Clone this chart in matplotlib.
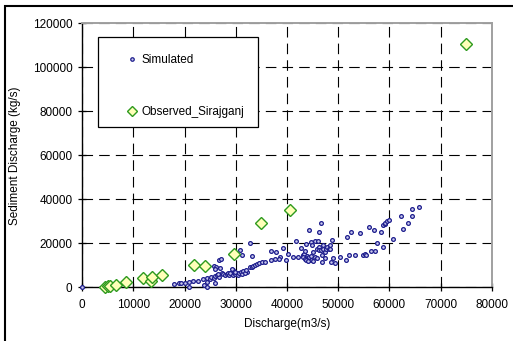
import numpy as np
import matplotlib
matplotlib.use('Agg')
import matplotlib.pyplot as plt
from matplotlib.patches import Rectangle
from matplotlib.lines import Line2D

plt.rcParams['font.family'] = ['Liberation Sans', 'DejaVu Sans']
plt.rcParams['font.size'] = 8.5

# simulated sediment discharge vs discharge
sim_q = [0, 17920, 18960, 19350, 20000, 20780, 20910, 21700, 22600, 23520, 23780, 24300, 24430, 24300,
         24950, 25080, 25730, 25990, 25860, 26380, 26640, 25730, 26120, 26900, 27300, 26640, 27030,
         27560, 27950, 28210, 28470, 28730, 29120, 29380, 29510, 29900, 30160, 30420, 30680, 30940,
         31200, 31460, 30810, 31200, 32120, 32770, 33160, 33420, 33810, 34200, 34590, 35110, 35630,
         25990, 26520, 28860, 29250, 29770, 31730, 31990,
         32770, 33160, 36810, 37850, 38630, 38370, 37720, 36940, 39800, 40190, 39280, 41110, 41760,
         42150, 42670, 43060, 43320, 43580, 43710, 43840, 43970, 44230, 44230, 44620, 44620, 44880,
         45010, 45140, 45400, 45530, 45790, 45790, 46060, 46190, 46190, 46320, 46580, 46710, 46840,
         46840, 46970, 47100, 47360, 47490, 47620, 47880, 48140, 48400, 48400, 48530, 48790, 48920,
         49310, 50350, 51530, 51660, 52050, 52440, 53350, 54260, 54780, 55300, 55430, 56080, 56480,
         57000, 57260, 57650, 58300, 58690, 58820, 59080, 59210, 59470, 59860, 60640, 62210, 62730,
         63640, 64420, 64420, 65860,
         43190, 43450, 43710, 44100, 44360, 44750]
sim_qs = [0, 1590, 1890, 1890, 2200, 2500, 380, 2800, 3100, 3710, 990, 4160, 2500, 200,
          4010, 4920, 4470, 5220, 1890, 5530, 4920, 9920, 9470, 9020, 6740, 12500, 12800,
          6140, 5530, 6140, 6740, 5680, 6440, 7950, 5680, 6140, 6740, 5530, 6440, 7050,
          5980, 7350, 17040, 14920, 7200, 9470, 9470, 9920, 10230, 10680, 10990, 11440, 11740,
          8560, 6140, 6740, 8260, 7200, 6740, 7950,
          20070, 14320, 16440, 16130, 13710, 12800, 13100, 12500, 12500, 15230, 17800, 13710, 21290,
          13710, 17950, 14620, 15230, 16440, 19770, 14320, 13410, 26130, 12800, 20680, 12500, 19470,
          16130, 11890, 14010, 20980, 17650, 13410, 20980, 25220, 18560, 17040, 29160, 17040, 14620,
          11590, 19470, 17650, 16130, 13410, 17650, 18560, 17650, 17350, 19470, 11590, 21590, 13410,
          11290, 14010, 12500, 22800, 14620, 25220, 14920, 24920, 14620, 15230, 14920, 27650, 16740,
          26130, 16440, 20380, 25220, 18560, 28260, 28860, 29470, 30070, 30680, 21890, 32500, 26440,
          29470, 32500, 35830, 36440,
          14010, 13100, 12500, 11890, 13710, 14320]

# observed at Sirajganj
obs_q = [4360, 4950, 5480, 6650, 8470, 11870, 13360, 13690, 15510, 21850, 24060, 29600, 34950, 40490, 75000]
obs_qs = [360, 820, 820, 1270, 2640, 4320, 2820, 4770, 5540, 10230, 9770, 15090, 29180, 35360, 110500]

fig = plt.figure(figsize=(5.13, 3.41), dpi=100)
ax = fig.add_axes([0.1604, 0.1569, 0.7981, 0.7748])

ax.plot(sim_q, sim_qs, linestyle='none', marker='o', ms=2.7, mec='#1c1c8c', mfc='#c8c8ee',
        mew=0.9, clip_on=False, zorder=3)
ax.plot(obs_q, obs_qs, linestyle='none', marker='D', ms=6.2, mec='#2e9a1e', mfc='#ffffb8',
        mew=1.0, clip_on=False, zorder=4)

ax.set_xlim(0, 80000)
ax.set_ylim(0, 120000)
ax.set_xticks(np.arange(0, 80001, 10000))
ax.set_yticks(np.arange(0, 120001, 20000))
ax.set_axisbelow(True)
ax.grid(True, color='black', lw=0.8, linestyle=(0, (9.5, 5.5)))

for s in ['left', 'bottom']:
    ax.spines[s].set_color('black')
    ax.spines[s].set_linewidth(1.0)
for s in ['top', 'right']:
    ax.spines[s].set_color('#a0a0a0')
    ax.spines[s].set_linewidth(1.4)
ax.tick_params(direction='inout', length=6, width=0.9, labelsize=8.5)
ax.tick_params(axis='x', pad=5)
ax.tick_params(axis='y', pad=4)

ax.set_xlabel('Discharge(m3/s)', fontsize=8.5)
ax.set_ylabel('Sediment Discharge (kg/s)', fontsize=8.5)
ax.xaxis.set_label_coords(0.5, -0.115)
ax.yaxis.set_label_coords(-0.150, 0.5)

# legend box
ax.add_patch(Rectangle((0.038, 0.607), 0.391, 0.341, transform=ax.transAxes,
                       facecolor='white', edgecolor='black', lw=0.9, zorder=5))
h_sim = Line2D([], [], linestyle='none', marker='o', ms=2.5, mec='#1c1c8c', mfc='#c8c8ee', mew=0.9)
h_obs = Line2D([], [], linestyle='none', marker='D', ms=5, mec='#2e9a1e', mfc='#ffffb8', mew=1.0)
leg = ax.legend([h_sim, h_obs], ['Simulated', 'Observed_Sirajganj'], loc='upper left',
                bbox_to_anchor=(0.108, 0.884), frameon=False, borderpad=0, borderaxespad=0,
                handlelength=1.0, handletextpad=0.3, labelspacing=3.4, fontsize=8.5)
leg.set_zorder(6)

# outer frame
fig.patches.append(Rectangle((5 / 513, -0.1), 1.2, 1 - 6 / 341 + 0.1, transform=fig.transFigure,
                             fill=False, edgecolor='black', lw=1.5))

fig.savefig('out.png', dpi=100)
